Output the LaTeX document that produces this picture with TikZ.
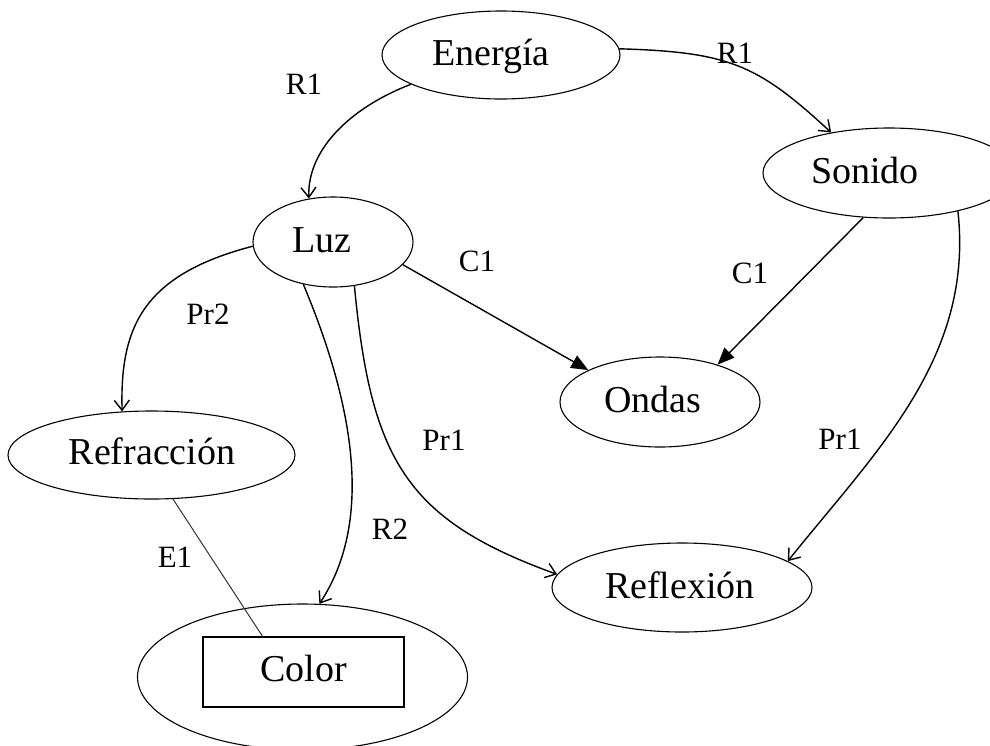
\documentclass[tikz,border=0pt]{standalone}
\usepackage{fontspec}
\setmainfont{Liberation Serif}
\usetikzlibrary{shapes.geometric,arrows.meta}
\begin{document}
\begin{tikzpicture}[x=1pt,y=-1pt,
  concept/.style 2 args={draw, ellipse, line width=1.1pt, inner sep=0pt,
    minimum width=#1, minimum height=#2},
  word/.style={inner sep=0pt, font=\fontsize{38}{40}\selectfont,
    text height=26.6pt, text depth=7.6pt},
  tag/.style={inner sep=0pt, font=\fontsize{31}{33}\selectfont},
  link/.style={line width=1.4pt, -{Straight Barb[length=10pt,width=15pt]}},
  flink/.style={line width=1.4pt, -{Triangle[length=17pt,width=14pt]}},
  plain/.style={line width=1pt, draw=black!80}]
\useasboundingbox (0,0) rectangle (990,745);
\clip (0,0) rectangle (990,745);

% concept ellipses
\node[concept={238pt}{88pt}] (ene) at (501,55) {};
\node[concept={252pt}{90pt}] (son) at (889,173) {};
\node[concept={160pt}{90pt}] (luz) at (333,242) {};
\node[concept={200pt}{90pt}] (ond) at (660,402) {};
\node[concept={287pt}{88pt}] (refr) at (151.5,455) {};
\node[concept={260pt}{89pt}] (refl) at (682,587.5) {};
\node[concept={330pt}{146pt}] (colE) at (302.5,677) {};
\node[word, draw, line width=1.1pt, minimum width=201pt, minimum height=70pt]
  (colR) at (303.5,672) {Color};

% concept names
\node[word] at (491,55.5) {Energía};
\node[word] at (865,173.5) {Sonido};
\node[word] at (322,242.5) {Luz};
\node[word] at (653,402.5) {Ondas};
\node[word] at (152,454.5) {Refracción};
\node[word] at (680,588.5) {Reflexión};

% connectors
\draw[link] (ene.198) .. controls (347,109) and (307,152) .. (luz.119);
\draw[link] (ene.3) .. controls (730,52) and (758,65) .. (son.145);
\draw[flink] (luz.-18) -- (ond.156);
\draw[flink] (son.-120) -- (ond.33);
\draw[link] (luz.183) .. controls (142,275) and (120,328) .. (refr.124);
\draw[link] (luz.235) .. controls (351,398) and (376,518) .. (colE.77);
\draw[link] (luz.-64) .. controls (371,461) and (407,520) .. (refl.174);
\draw[link] (son.-29) .. controls (974,358) and (876,451) .. (refl.14);
\draw[plain] (refr.-64) -- (colR.139);

% relation labels
\node[tag] at (304,84) {R1};
\node[tag] at (735,53) {R1};
\node[tag] at (477,261) {C1};
\node[tag] at (750,273) {C1};
\node[tag] at (208,314) {Pr2};
\node[tag] at (444,440) {Pr1};
\node[tag] at (840,439) {Pr1};
\node[tag] at (390,529) {R2};
\node[tag] at (175,557) {E1};
\end{tikzpicture}
\end{document}
